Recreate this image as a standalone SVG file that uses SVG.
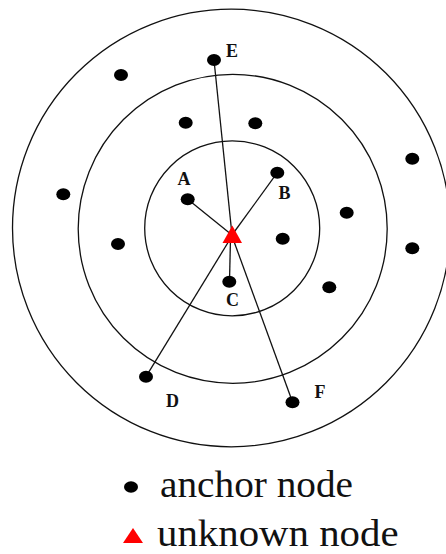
<svg xmlns="http://www.w3.org/2000/svg" width="446" height="554" viewBox="0 0 446 554">
<style>
.ring{fill:none;stroke:#111;stroke-width:1.3}
.link{stroke:#111;stroke-width:1.3;fill:none}
.dot{fill:#000}
.tri{fill:#ff0000}
.lbl{font-family:'Liberation Serif','DejaVu Serif','Times New Roman',serif;font-weight:bold;font-size:18px;fill:#111;text-anchor:middle}
.leg{font-family:'Liberation Serif','DejaVu Serif','Times New Roman',serif;font-size:38px;fill:#111}
</style>
<rect width="446" height="554" fill="#fff"/>
<g id="rings">
<circle class="ring" cx="231.3" cy="228" r="218.8"/>
<circle class="ring" cx="232.7" cy="228.8" r="154.5"/>
<circle class="ring" cx="232.2" cy="228.3" r="87.5"/>
</g>
<g id="connectors">
<line class="link" x1="214" y1="60" x2="232" y2="235"/>
<line class="link" x1="187.7" y1="199.3" x2="232" y2="235"/>
<line class="link" x1="277.3" y1="172.7" x2="232" y2="235"/>
<line class="link" x1="229.5" y1="281.7" x2="230.5" y2="238"/>
<line class="link" x1="146" y1="376.7" x2="232" y2="236"/>
<line class="link" x1="292.5" y1="402" x2="232" y2="236"/>
</g>
<g id="anchors">
<ellipse class="dot" cx="121" cy="75" rx="7" ry="6"/>
<ellipse class="dot" cx="185.7" cy="122.7" rx="7" ry="6"/>
<ellipse class="dot" cx="255.3" cy="123.3" rx="7" ry="6"/>
<ellipse class="dot" cx="412.3" cy="158.7" rx="7" ry="6"/>
<ellipse class="dot" cx="63.3" cy="194.3" rx="7" ry="6"/>
<ellipse class="dot" cx="346.7" cy="212.7" rx="7" ry="6"/>
<ellipse class="dot" cx="282.7" cy="238.7" rx="7" ry="6"/>
<ellipse class="dot" cx="118" cy="244" rx="7" ry="6"/>
<ellipse class="dot" cx="412.3" cy="248.3" rx="7" ry="6"/>
<ellipse class="dot" cx="329.3" cy="287.3" rx="7" ry="6"/>
</g>
<g id="node-E"><ellipse class="dot" cx="214" cy="60" rx="7" ry="6"/><text class="lbl" x="232" y="57">E</text></g>
<g id="node-A"><ellipse class="dot" cx="187.7" cy="199.3" rx="7" ry="6"/><text class="lbl" x="184" y="185">A</text></g>
<g id="node-B"><ellipse class="dot" cx="277.3" cy="172.7" rx="7" ry="6"/><text class="lbl" x="284.5" y="199">B</text></g>
<g id="node-C"><ellipse class="dot" cx="229.3" cy="281.7" rx="7" ry="6"/><text class="lbl" x="232.5" y="306">C</text></g>
<g id="node-D"><ellipse class="dot" cx="146" cy="376.7" rx="7" ry="6"/><text class="lbl" x="172.5" y="406.5">D</text></g>
<g id="node-F"><ellipse class="dot" cx="292.5" cy="402.3" rx="7" ry="6"/><text class="lbl" x="320" y="398">F</text></g>
<g id="unknown"><polygon class="tri" points="232.3,225.5 222.5,243 242,243"/></g>
<g id="legend-anchor"><ellipse class="dot" cx="131" cy="487" rx="7" ry="5.8"/><text class="leg" x="160" y="497" textLength="193" lengthAdjust="spacingAndGlyphs">anchor node</text></g>
<g id="legend-unknown"><polygon class="tri" points="133,528 123,543 143,543"/><text class="leg" x="157" y="546" textLength="241.5" lengthAdjust="spacingAndGlyphs">unknown node</text></g>
</svg>
